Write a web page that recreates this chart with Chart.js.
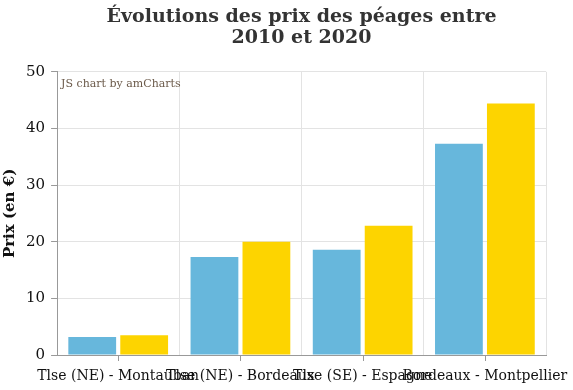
<!DOCTYPE html>
<html>
<head>
<meta charset="utf-8">
<script src="https://cdn.jsdelivr.net/npm/chart.js@4.4.0/dist/chart.umd.min.js"></script>
<style>
  body { margin: 0; background: #fff; }
  #wrap { width: 573px; height: 390px; }
</style>
</head>
<body>
<div id="wrap"><canvas id="myChart"></canvas></div>
<script>
const categories = ['Tlse (NE) - Montauban', 'Tlse (NE) - Bordeaux', 'Tlse (SE) - Espagne', 'Bordeaux - Montpellier']
const prix2010 = [3.2, 17.3, 18.6, 37.3]
const prix2020 = [3.5, 20.0, 22.8, 44.4]
const titleLines = ['Évolutions des prix des péages entre', '2010 et 2020']

const serif = 'DejaVu Serif'

// watermark + tick marks centered under each category
const extras = {
  id: 'extras',
  afterLayout(chart) {
    // center the title over the plot area, not the whole canvas
    if (chart.titleBlock) {
      chart.titleBlock.left = chart.chartArea.left
      chart.titleBlock.right = chart.chartArea.right
    }
  },
  afterDraw(chart) {
    const ctx = chart.ctx
    const area = chart.chartArea
    const x = chart.scales.x
    ctx.save()
    ctx.font = '11px ' + serif
    ctx.fillStyle = '#6b5a4a'
    ctx.textBaseline = 'top'
    ctx.fillText('JS chart by amCharts', area.left + 4, area.top + 7)
    ctx.strokeStyle = '#999'
    ctx.lineWidth = 1
    categories.forEach((c, i) => {
      const px = Math.round(x.getPixelForValue(i)) + 0.5
      ctx.beginPath()
      ctx.moveTo(px, area.bottom)
      ctx.lineTo(px, area.bottom + 6)
      ctx.stroke()
    })
    ctx.restore()
  }
}

new Chart(document.getElementById('myChart'), {
  type: 'bar',
  data: {
    labels: categories,
    datasets: [
      { label: '2010', data: prix2010, backgroundColor: '#67b7dc' },
      { label: '2020', data: prix2020, backgroundColor: '#fdd400' }
    ]
  },
  options: {
    responsive: true,
    maintainAspectRatio: false,
    animation: false,
    categoryPercentage: 0.85,
    barPercentage: 0.92,
    layout: { padding: { left: 0, right: 27, top: 2, bottom: 0 } },
    plugins: {
      legend: { display: false },
      tooltip: { enabled: false },
      title: {
        display: true,
        text: titleLines,
        color: '#333',
        font: { family: serif, size: 19, weight: 'bold', lineHeight: 1.1 },
        padding: { top: 5, bottom: 23 }
      }
    },
    scales: {
      x: {
        grid: { color: '#e3e3e3', offset: true, drawTicks: false },
        border: { color: '#999' },
        afterFit(scale) {
          scale.paddingLeft = 0
          scale.paddingRight = 0
          scale.height = 35
        },
        ticks: {
          autoSkip: false, maxRotation: 0, minRotation: 0,
          color: '#111', padding: 13,
          font: { family: serif, size: 14 }
        }
      },
      y: {
        min: 0, max: 50,
        ticks: { stepSize: 10, color: '#111', padding: 6, font: { family: serif, size: 15 } },
        grid: { color: '#e3e3e3', tickLength: 6, tickColor: '#999' },
        border: { color: '#999' },
        title: {
          display: true, text: 'Prix (en €)', color: '#111',
          padding: { top: 1, bottom: 1 },
          font: { family: serif, size: 15, weight: 'bold' }
        }
      }
    }
  },
  plugins: [extras]
})
</script>
</body>
</html>
